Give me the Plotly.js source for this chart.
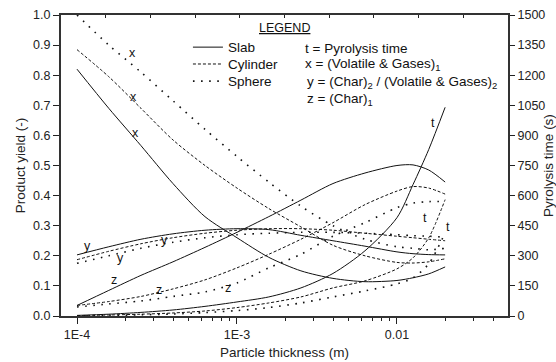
<!DOCTYPE html>
<html>
<head>
<meta charset="utf-8">
<script src="https://cdn.plot.ly/plotly-3.0.1.min.js"></script>
<style>html,body{margin:0;padding:0;background:#fff;}#chart{width:556px;height:362px;}</style>
</head>
<body>
<div id="chart"></div>
<script>
// Particle thickness (m)
var thickness = [0.0001, 0.000158, 0.000251, 0.000398, 0.000631, 0.001, 0.00158, 0.00251, 0.00398, 0.00631, 0.01, 0.0126, 0.0158, 0.02];

// Slab
var slabX = [0.82, 0.69, 0.566, 0.44, 0.33, 0.26, 0.195, 0.15, 0.125, 0.114, 0.118, 0.127, 0.14, 0.163];
var slabY = [0.203, 0.23, 0.255, 0.273, 0.285, 0.29, 0.287, 0.268, 0.25, 0.232, 0.213, 0.207, 0.204, 0.203];
var slabZ = [0.035, 0.085, 0.135, 0.18, 0.228, 0.278, 0.33, 0.385, 0.44, 0.475, 0.50, 0.502, 0.485, 0.445];
var slabT = [3, 9, 18, 30, 48, 70, 95, 140, 212, 325, 490, 655, 830, 1040];

// Cylinder
var cylX = [0.885, 0.795, 0.69, 0.585, 0.50, 0.425, 0.357, 0.296, 0.235, 0.20, 0.178, 0.176, 0.18, 0.19];
var cylY = [0.187, 0.215, 0.24, 0.26, 0.275, 0.285, 0.29, 0.29, 0.285, 0.275, 0.265, 0.26, 0.255, 0.25];
var cylZ = [0.035, 0.048, 0.065, 0.09, 0.12, 0.16, 0.205, 0.255, 0.31, 0.37, 0.415, 0.43, 0.425, 0.405];
var cylT = [2, 5, 9, 15, 25, 42, 65, 95, 140, 175, 235, 290, 390, 580];

// Sphere
var sphX = [1.0, 0.90, 0.81, 0.715, 0.62, 0.53, 0.445, 0.365, 0.30, 0.255, 0.23, 0.225, 0.22, 0.225];
var sphY = [0.175, 0.2, 0.225, 0.245, 0.26, 0.27, 0.275, 0.278, 0.278, 0.275, 0.27, 0.267, 0.265, 0.262];
var sphZ = [0.03, 0.04, 0.05, 0.065, 0.08, 0.11, 0.16, 0.205, 0.265, 0.31, 0.36, 0.375, 0.38, 0.38];
var sphT = [1, 3, 6, 10, 17, 27, 42, 65, 95, 125, 160, 190, 260, 415];

// Tick labels
var xTickVals = [0.0001, 0.001, 0.01];
var xTickText = ["1E-4", "1E-3", "0.01"];
var xMinorVals = [0.0002,0.0003,0.0004,0.0005,0.0006,0.0007,0.0008,0.0009,0.002,0.003,0.004,0.005,0.006,0.007,0.008,0.009,0.02,0.03,0.04];

// Curve labels (letter, log10 thickness, yield)
var labelText = ["x","x","x","y","y","y","z","z","z","t","t","t"];
var labelX = [-3.656,-3.644,-3.637,-3.9375,-3.73,-3.45,-3.77,-3.49,-3.056,-1.775,-1.825,-1.68];
var labelY = [0.874,0.728,0.608,0.233,0.193,0.252,0.12,0.086,0.093,0.641,0.326,0.296];

// Legend texts
var shapeNames = ["Slab", "Cylinder", "Sphere"];
var keyTexts = ["t = Pyrolysis time", "x = (Volatile &amp; Gases)<sub>1</sub>",
  "y = (Char)<sub>2</sub> / (Volatile &amp; Gases)<sub>2</sub>", "z = (Char)<sub>1</sub>"];

var FONT = "Liberation Sans, Arial, sans-serif";
var TXT = "#111";
var styles = {
  slab: {color:"#111", width:1, dash:"solid"},
  cyl: {color:"#111", width:1, dash:"3px,2px"},
  sph: {color:"#111", width:1.6, dash:"1.6px,6.5px"}
};

function tr(y, st, axis) {
  return {x: thickness, y: y, type:"scatter", mode:"lines", yaxis: axis || "y",
    line:{color:st.color, width:st.width, dash:st.dash, shape:"spline", smoothing:0.8},
    showlegend:false, hoverinfo:"skip"};
}
function legendTrace(name, st, lg) {
  return {x:[null], y:[null], type:"scatter", mode:"lines", name:name, legend:lg,
    line:{color:st.color, width:st.width, dash:st.dash}, showlegend:true};
}

var data = [
  tr(slabX, styles.slab), tr(slabY, styles.slab), tr(slabZ, styles.slab), tr(slabT, styles.slab, "y2"),
  tr(cylX, styles.cyl), tr(cylY, styles.cyl), tr(cylZ, styles.cyl), tr(cylT, styles.cyl, "y2"),
  tr(sphX, styles.sph), tr(sphY, styles.sph), tr(sphZ, styles.sph), tr(sphT, styles.sph, "y2"),
  legendTrace(shapeNames[0], styles.slab, "legend"),
  legendTrace(shapeNames[1], styles.cyl, "legend2"),
  legendTrace(shapeNames[2], styles.sph, "legend3"),
  {x:[0,10], y:[null,null], xaxis:"x2", type:"scatter", mode:"lines", showlegend:false, hoverinfo:"skip"}
];

var annotations = [];
for (var i = 0; i < labelText.length; i++) {
  annotations.push({x: labelX[i], y: labelY[i], xref:"x", yref:"y", text: labelText[i],
    showarrow:false, font:{family:FONT, size:12.5, color:TXT}});
}
var keyY = [0.890, 0.834, 0.777, 0.718];
var keyX = [0.541, 0.541, 0.545, 0.545];
for (var k = 0; k < keyTexts.length; k++) {
  annotations.push({x:keyX[k], y:keyY[k], xref:"paper", yref:"paper", xanchor:"left", yanchor:"middle",
    text:keyTexts[k], showarrow:false, font:{family:FONT, size:13.5, color:TXT}});
}
annotations.push({x:0.499, y:0.957, xref:"paper", yref:"paper", xanchor:"center", yanchor:"middle",
  text:"<u>LEGEND</u>", showarrow:false, font:{family:FONT, size:12.5, color:TXT}});

function lg(y) {
  return {x:0.284, y:y, xanchor:"left", yanchor:"top", bgcolor:"rgba(0,0,0,0)",
    font:{family:FONT, size:13.5, color:TXT}, itemwidth:30};
}

var tickFont = {family:FONT, size:12.5, color:"#222"};
var titleFont = {family:FONT, size:13.5, color:"#222"};

var layout = {
  width:556, height:362,
  margin:{l:61, r:48, t:15, b:46},
  paper_bgcolor:"#fff", plot_bgcolor:"#fff",
  font:{family:FONT, size:12.5, color:"#222"},
  showlegend:true,
  legend: lg(0.944), legend2: lg(0.888), legend3: lg(0.831),
  xaxis:{type:"log", range:[-4.1, -1.306], tickvals:xTickVals, ticktext:xTickText, tickfont:tickFont,
    ticks:"outside", ticklen:6, tickwidth:1, tickcolor:"#222",
    minor:{tickvals:xMinorVals, ticks:"outside", ticklen:3, tickcolor:"#222", showgrid:false},
    showgrid:false, zeroline:false, showline:true, linecolor:"#333", linewidth:2,
    title:{text:"Particle thickness (m)", font:titleFont, standoff:7}},
  xaxis2:{overlaying:"x", side:"top", range:[0,10], dtick:1, ticks:"inside", ticklen:3,
    tickcolor:"#222", showticklabels:false, showgrid:false, zeroline:false,
    showline:true, linecolor:"#333", linewidth:2},
  yaxis:{range:[0,1], dtick:0.1, tickformat:".1f", tickfont:tickFont, ticks:"outside", ticklen:6, tickcolor:"#222",
    showgrid:false, zeroline:false, showline:true, linecolor:"#333", linewidth:2,
    title:{text:"Product yield (-)", font:titleFont, standoff:4}},
  yaxis2:{overlaying:"y", side:"right", range:[0,1500], dtick:150, tickfont:tickFont, ticks:"outside", ticklen:5,
    tickcolor:"#222", showgrid:false, zeroline:false, showline:true, linecolor:"#333", linewidth:2,
    title:{text:"Pyrolysis time (s)", font:titleFont, standoff:0}},
  annotations: annotations
};

Plotly.newPlot("chart", data, layout, {staticPlot:true, displayModeBar:false});
</script>
</body>
</html>
